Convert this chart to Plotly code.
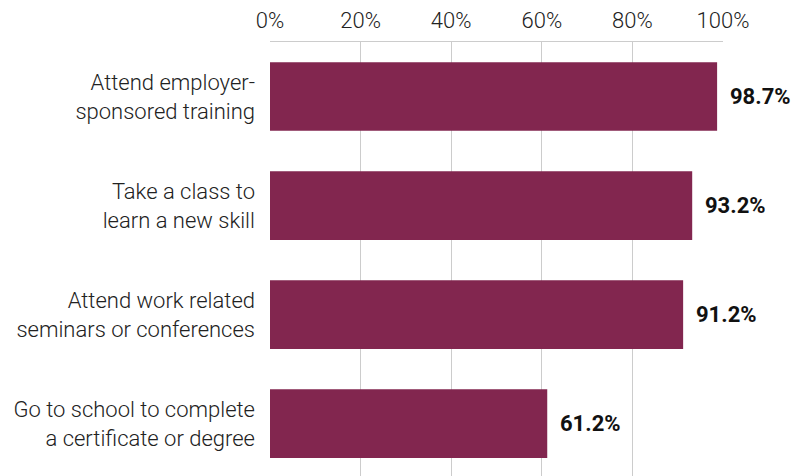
import plotly.graph_objects as go

categories = [
    "Attend employer-<br>sponsored training",
    "Take a class to<br>learn a new skill",
    "Attend work related<br>seminars or conferences",
    "Go to school to complete<br>a certificate or degree",
]
values = [98.7, 93.2, 91.2, 61.2]
value_labels = ["98.7%", "93.2%", "91.2%", "61.2%"]
tick_vals = [0, 20, 40, 60, 80, 100]
tick_text = ["0%", "20%", "40%", "60%", "80%", "100%"]

FONT = "Roboto, 'Noto Sans', sans-serif"
LIGHT = "'Roboto Light', Roboto, 'Noto Sans', sans-serif"

fig = go.Figure()
fig.add_trace(go.Bar(
    x=values, y=categories, orientation="h",
    marker=dict(color="#82264F", line=dict(width=0)),
    width=0.63,
    hoverinfo="skip",
))

for v, c, t in zip(values, categories, value_labels):
    fig.add_annotation(
        x=v, y=c, text="<b>" + t + "</b>", showarrow=False,
        xanchor="left", yanchor="middle", xshift=11,
        font=dict(family=FONT, size=22, color="#111111"),
    )

fig.update_layout(
    width=794, height=476,
    margin=dict(l=270, r=71, t=42, b=0, pad=0),
    paper_bgcolor="white", plot_bgcolor="white",
    showlegend=False,
    font=dict(family=LIGHT, size=22, color="#222222", weight=300),
    xaxis=dict(
        side="top", range=[0, 100], tickvals=tick_vals, ticktext=tick_text,
        showgrid=True, gridcolor="#cccccc", gridwidth=1,
        showline=True, linecolor="#cccccc", linewidth=1,
        zeroline=False, ticks="", ticklabelstandoff=4,
        tickfont=dict(family=LIGHT, size=22, color="#222222", weight=300),
        fixedrange=True,
    ),
    yaxis=dict(
        range=[3.48, -0.5], showgrid=False, zeroline=False, showline=False,
        ticks="", ticklabelstandoff=14,
        tickfont=dict(family=LIGHT, size=22, color="#222222", weight=300),
        fixedrange=True,
    ),
)

fig.write_html(
    "out.html",
    config={"displayModeBar": False},
    post_script="document.body.style.margin='0';document.body.style.overflow='hidden';",
)
